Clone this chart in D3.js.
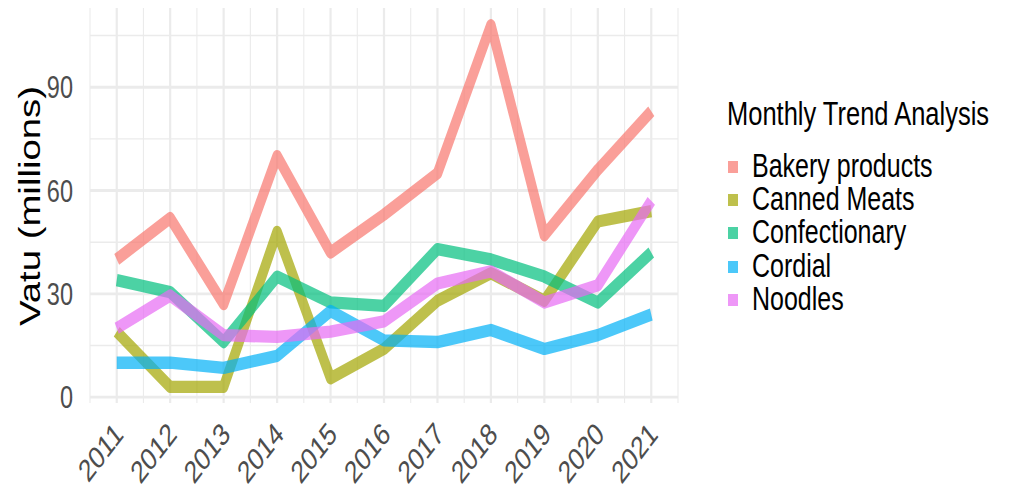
<!DOCTYPE html>
<html>
<head>
<meta charset="utf-8">
<script src="https://cdn.jsdelivr.net/npm/d3@7"></script>
<style>
  html, body { margin: 0; padding: 0; background: #fff; }
  svg { display: block; }
  text { font-family: "Liberation Sans", Arial, sans-serif; }
</style>
</head>
<body>
<div id="chart"></div>
<script>
// ---- Data ----
const years = [2011, 2012, 2013, 2014, 2015, 2016, 2017, 2018, 2019, 2020, 2021];
const seriesNames = ["Bakery products", "Canned Meats", "Confectionary", "Cordial", "Noodles"];
const bakery        = [40, 52, 27, 70, 42, 53, 65, 108, 47, 66, 83];
const cannedMeats   = [19, 3, 3, 48, 5.5, 14, 28, 36, 28, 51, 54];
const confectionary = [34, 30.5, 16, 35, 27.5, 26.5, 43, 40, 35, 27.5, 42];
const cordial       = [10, 10, 8.5, 12, 25, 16.5, 16, 19.5, 14, 18, 24];
const noodles       = [20, 29.5, 18, 17.5, 19, 22, 33, 36.5, 27.5, 32.5, 57];
const yTicks = [0, 30, 60, 90];
const yMinor = [15, 45, 75, 105];
const colors = ["#F8766D", "#A3A500", "#00BF7D", "#00B0F6", "#E76BF3"];
const legendTitle = "Monthly Trend Analysis";
const yTitle = "Vatu (millions)";

const seriesValues = [bakery, cannedMeats, confectionary, cordial, noodles];

// ---- Layout ----
const W = 1016, H = 494;
const SY = 1.3;              // vertical stretch of the original render

const svg = d3.select("#chart").append("svg")
  .attr("width", W).attr("height", H);
svg.append("rect").attr("width", W).attr("height", H).attr("fill", "#fff");

const g = svg.append("g").attr("transform", `scale(1, ${SY})`);

const x = d3.scaleLinear().domain([2010.5, 2021.5]).range([90, 678]);
const y = d3.scaleLinear().domain([-1.7, 113]).range([403 / SY, 8 / SY]);

// gridlines
const grid = g.append("g");
const xMinor = d3.range(2010.5, 2022, 1);
grid.selectAll("line.ymin").data(yMinor).join("line")
  .attr("x1", x.range()[0]).attr("x2", x.range()[1])
  .attr("y1", d => y(d)).attr("y2", d => y(d))
  .attr("stroke", "#EBEBEB").attr("stroke-width", 1.1);
grid.selectAll("line.xmin").data(xMinor).join("line")
  .attr("x1", d => x(d)).attr("x2", d => x(d))
  .attr("y1", y.range()[0]).attr("y2", y.range()[1])
  .attr("stroke", "#EBEBEB").attr("stroke-width", 1.1);
grid.selectAll("line.ymaj").data(yTicks).join("line")
  .attr("x1", x.range()[0]).attr("x2", x.range()[1])
  .attr("y1", d => y(d)).attr("y2", d => y(d))
  .attr("stroke", "#EBEBEB").attr("stroke-width", 2.2);
grid.selectAll("line.xmaj").data(years).join("line")
  .attr("x1", d => x(d)).attr("x2", d => x(d))
  .attr("y1", y.range()[0]).attr("y2", y.range()[1])
  .attr("stroke", "#EBEBEB").attr("stroke-width", 2.2);

// lines
const line = d3.line().x((d, i) => x(years[i])).y(d => y(d));
g.append("g").selectAll("path").data(seriesValues).join("path")
  .attr("d", d => line(d))
  .attr("fill", "none")
  .attr("stroke", (d, i) => colors[i])
  .attr("stroke-opacity", 0.7)
  .attr("stroke-width", 9.5)
  .attr("stroke-linejoin", "round")
  .attr("stroke-linecap", "butt");

// y tick labels
g.append("g").selectAll("text").data(yTicks).join("text")
  .attr("x", 73).attr("y", d => y(d))
  .attr("dy", "0.36em")
  .attr("text-anchor", "end")
  .attr("font-size", 23.5)
  .attr("fill", "#4D4D4D")
  .text(d => d);

// x tick labels
g.append("g").selectAll("text").data(years).join("text")
  .attr("transform", d => `translate(${x(d) + 8}, ${436 / SY}) rotate(-45)`)
  .attr("text-anchor", "end")
  .attr("font-size", 24)
  .attr("fill", "#4D4D4D")
  .text(d => d);

// y title
g.append("text")
  .attr("transform", `translate(40, ${206 / SY}) rotate(-90)`)
  .attr("text-anchor", "middle")
  .attr("font-size", 29.5)
  .attr("fill", "#000")
  .text(yTitle);

// legend
const lg = g.append("g");
lg.append("text")
  .attr("x", 727).attr("y", 125 / SY)
  .attr("font-size", 25.5)
  .attr("fill", "#000")
  .text(legendTitle);
const baselines = [177, 210, 243, 277, 310];
const items = lg.selectAll("g.item").data(seriesNames).join("g");
items.append("rect")
  .attr("x", 728).attr("y", (d, i) => (baselines[i] - 16) / SY)
  .attr("width", 10).attr("height", 12 / SY)
  .attr("fill", (d, i) => colors[i])
  .attr("fill-opacity", 0.7);
items.append("text")
  .attr("x", 752).attr("y", (d, i) => baselines[i] / SY)
  .attr("font-size", 25)
  .attr("fill", "#000")
  .text(d => d);
</script>
</body>
</html>
